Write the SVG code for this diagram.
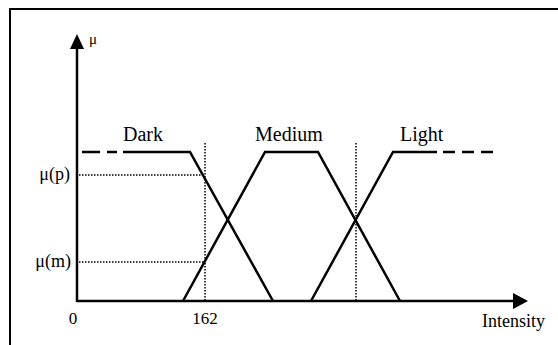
<svg xmlns="http://www.w3.org/2000/svg" width="558" height="345" viewBox="0 0 558 345">
<style>
.t{font-family:"Liberation Serif","Times New Roman",serif;fill:#000}
.ax{stroke:#000;stroke-width:2.5;fill:none}
.mf{stroke:#000;stroke-width:2.5;fill:none;stroke-linejoin:miter}
.ds{stroke:#000;stroke-width:2.5;fill:none}
.dt{stroke:#000;stroke-width:1.5;fill:none;stroke-dasharray:1.5,1.5}
</style>
<rect width="558" height="345" fill="#fff"/>
<g id="frame"><path d="M10 355 V9 H570" stroke="#000" stroke-width="2" fill="none"/></g>
<g id="axes">
<line class="ax" x1="77" y1="302" x2="77" y2="46"/>
<polygon points="77,34 70,49 84,49" fill="#000"/>
<line class="ax" x1="76" y1="301" x2="515" y2="301"/>
<polygon points="528,301 513,293 513,309" fill="#000"/>
</g>
<g id="guides">
<line class="dt" x1="79" y1="175" x2="205" y2="175"/>
<line class="dt" x1="79" y1="262" x2="205" y2="262"/>
<line class="dt" x1="205" y1="143" x2="205" y2="300"/>
<line class="dt" x1="356" y1="143" x2="356" y2="300"/>
</g>
<g id="dark">
<line class="ds" x1="82" y1="152" x2="117" y2="152" stroke-dasharray="18,7"/>
<polyline class="mf" points="123,152 190,152 273,301"/>
</g>
<g id="medium">
<polyline class="mf" points="183,301 265,152 318,152 400,301"/>
</g>
<g id="light">
<polyline class="mf" points="311,301 393,152 437,152"/>
<line class="ds" x1="443" y1="152" x2="493" y2="152" stroke-dasharray="12,7"/>
</g>
<g id="labels">
<text class="t" x="89" y="44" font-size="15">μ</text>
<text class="t" x="70" y="180" font-size="18" text-anchor="end">μ(p)</text>
<text class="t" x="71" y="267" font-size="18" text-anchor="end">μ(m)</text>
<text class="t" x="73" y="324" font-size="17" text-anchor="middle">0</text>
<text class="t" x="205" y="324" font-size="17" text-anchor="middle">162</text>
<text class="t" x="482" y="327" font-size="18">Intensity</text>
<text class="t" x="123" y="141" font-size="20">Dark</text>
<text class="t" x="255" y="141" font-size="20">Medium</text>
<text class="t" x="400" y="141" font-size="20">Light</text>
</g>
</svg>
